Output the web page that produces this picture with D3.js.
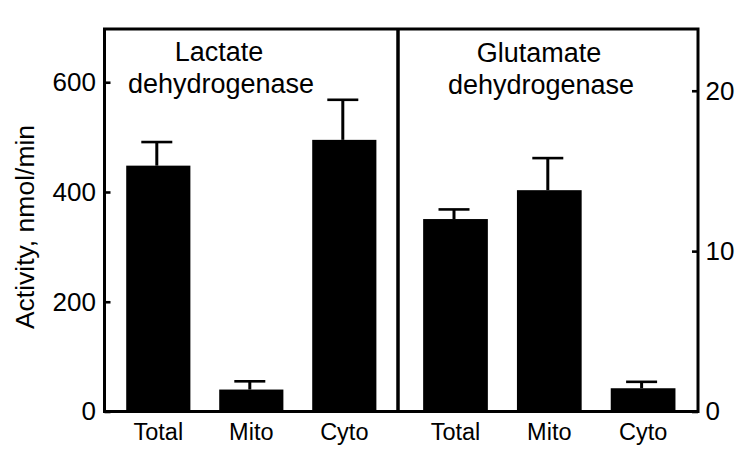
<!DOCTYPE html>
<html>
<head>
<meta charset="utf-8">
<script src="https://cdn.jsdelivr.net/npm/d3@7"></script>
<style>
  body { margin: 0; background: #fff; }
  svg text { font-family: "Liberation Sans", Arial, sans-serif; fill: #000; }
</style>
</head>
<body>
<div id="chart"></div>
<script>
// data
var categories = ["Total", "Mito", "Cyto"];
var ldhMean = [448, 40, 495];   // nmol/min, left axis
var ldhErr = [43, 15, 73];
var gdhMean = [12.0, 13.8, 1.45]; // nmol/min, right axis
var gdhErr = [0.6, 2.0, 0.4];
var leftTicks = [0, 200, 400, 600];
var rightTicks = [0, 10, 20];
var panelTitles = [["Lactate", "dehydrogenase"], ["Glutamate", "dehydrogenase"]];

var svgWidth = 750;
var svgHeight = 461;

// frame geometry
var xLeft = 104.5;
var xRight = 698;
var xMid = 398;
var yTop = 29;
var yBottom = 411.5;

var svg = d3.select("#chart")
  .append("svg")
  .attr("width", svgWidth)
  .attr("height", svgHeight);

// scales
var yLeft = d3.scaleLinear().domain([0, 697]).range([yBottom, yTop]);
var yRight = d3.scaleLinear().domain([0, 23.85]).range([yBottom, yTop]);

var xLdh = d3.scaleBand().domain(categories).range([111.8, 390.8])
  .paddingInner(0.31).paddingOuter(0.155);
var xGdh = d3.scaleBand().domain(categories).range([408.6, 690])
  .paddingInner(0.31).paddingOuter(0.155);

function drawPanel(xs, ys, means, errs) {
  var g = svg.append("g");
  var rows = categories.map(function(c, i) {
    return { cat: c, mean: means[i], err: errs[i] };
  });

  // error bars (upper only)
  g.selectAll(".stem")
    .data(rows)
    .enter()
    .append("line")
    .attr("x1", d => xs(d.cat) + xs.bandwidth() / 2 - 1.5)
    .attr("x2", d => xs(d.cat) + xs.bandwidth() / 2 - 1.5)
    .attr("y1", d => ys(d.mean))
    .attr("y2", d => ys(d.mean + d.err))
    .attr("stroke", "#000")
    .attr("stroke-width", 3);

  g.selectAll(".cap")
    .data(rows)
    .enter()
    .append("line")
    .attr("x1", d => xs(d.cat) + xs.bandwidth() / 2 - 17)
    .attr("x2", d => xs(d.cat) + xs.bandwidth() / 2 + 14)
    .attr("y1", d => ys(d.mean + d.err))
    .attr("y2", d => ys(d.mean + d.err))
    .attr("stroke", "#000")
    .attr("stroke-width", 2.6);

  // bars
  g.selectAll("rect")
    .data(rows)
    .enter()
    .append("rect")
    .attr("x", d => xs(d.cat))
    .attr("y", d => ys(d.mean))
    .attr("width", xs.bandwidth())
    .attr("height", d => ys(0) - ys(d.mean))
    .attr("fill", "#000");

  // category labels
  g.selectAll("text")
    .data(rows)
    .enter()
    .append("text")
    .attr("x", d => xs(d.cat) + xs.bandwidth() / 2)
    .attr("y", 440)
    .attr("text-anchor", "middle")
    .style("font-size", "23.5px")
    .text(d => d.cat);
}

drawPanel(xLdh, yLeft, ldhMean, ldhErr);
drawPanel(xGdh, yRight, gdhMean, gdhErr);

// axes
var leftAxis = d3.axisLeft(yLeft)
  .tickValues(leftTicks)
  .tickSizeInner(-6)
  .tickSizeOuter(0)
  .tickPadding(8.5);

var rightAxis = d3.axisRight(yRight)
  .tickValues(rightTicks)
  .tickSizeInner(-6)
  .tickSizeOuter(0)
  .tickPadding(7.5);

var gl = svg.append("g")
  .attr("transform", `translate(${xLeft}, 0)`)
  .call(leftAxis);

var gr = svg.append("g")
  .attr("transform", `translate(${xRight}, 0)`)
  .call(rightAxis);

[gl, gr].forEach(function(a) {
  a.select(".domain").remove();
  a.selectAll(".tick line").attr("stroke", "#000").attr("stroke-width", 2.6);
  a.selectAll(".tick text")
    .style("font-size", "26px")
    .style("font-family", "'Liberation Sans', Arial, sans-serif");
});

// frame and divider
var frame = svg.append("g")
  .attr("stroke", "#000")
  .attr("stroke-width", 3)
  .attr("fill", "none");

frame.append("rect")
  .attr("x", xLeft)
  .attr("y", yTop)
  .attr("width", xRight - xLeft)
  .attr("height", yBottom - yTop);

frame.append("line")
  .attr("x1", xMid).attr("x2", xMid)
  .attr("y1", yTop).attr("y2", yBottom)
  .attr("stroke-width", 3.5);

// panel titles
var titlePos = [[219, 61], [539, 62]];
panelTitles.forEach(function(lines, p) {
  var t = svg.append("text")
    .attr("text-anchor", "middle")
    .style("font-size", "27px");
  lines.forEach(function(s, i) {
    t.append("tspan")
      .attr("x", titlePos[p][0] + (i === 1 ? 2 : 0))
      .attr("y", titlePos[p][1] + i * 31.5)
      .text(s);
  });
});

// y axis label
svg.append("text")
  .attr("transform", "translate(34, 227) rotate(-90)")
  .attr("text-anchor", "middle")
  .style("font-size", "26.5px")
  .text("Activity, nmol/min");
</script>
</body>
</html>
